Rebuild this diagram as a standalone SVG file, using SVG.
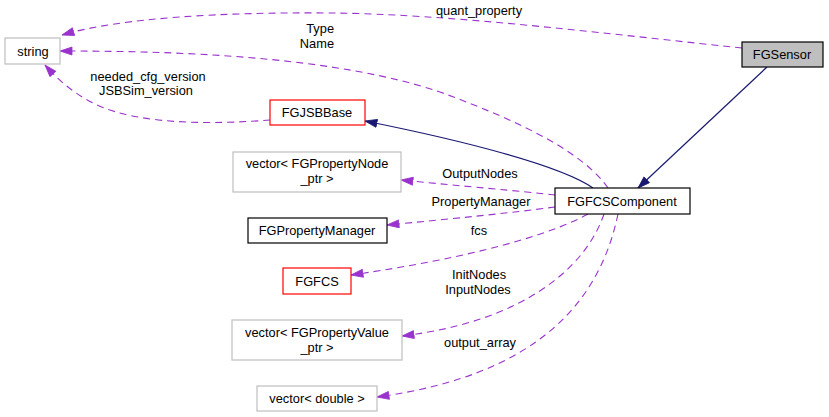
<svg xmlns="http://www.w3.org/2000/svg" width="829" height="417" viewBox="0 0 829 417">
<defs>
<style>
text{font-family:"Liberation Sans",Arial,Helvetica,sans-serif;font-size:12.8px;fill:#000;text-anchor:middle}
.box{fill:#fff;stroke-width:1.2}
.grey{stroke:#bfbfbf}
.red{stroke:#ff0000}
.blk{stroke:#000}
.dash{fill:none;stroke:#9a32cd;stroke-width:1.1;stroke-dasharray:7,5;marker-end:url(#ap)}
.solid{fill:none;stroke:#191970;stroke-width:1.2;marker-end:url(#an)}
</style>
<marker id="ap" markerUnits="userSpaceOnUse" markerWidth="14" markerHeight="10" refX="12.5" refY="4.5" orient="auto"><path d="M0.5,0.5 L12.5,4.5 L0.5,8.5 z" fill="#9a32cd" stroke="#9a32cd" stroke-width="0.8"/></marker>
<marker id="an" markerUnits="userSpaceOnUse" markerWidth="14" markerHeight="10" refX="12.5" refY="4.5" orient="auto"><path d="M0.5,0.5 L12.5,4.5 L0.5,8.5 z" fill="#191970" stroke="#191970" stroke-width="0.8"/></marker>
</defs>
<rect width="829" height="417" fill="#fff"/>
<g id="connectors">
<path class="solid" d="M767,67 L638,188"/>
<path class="solid" d="M593,188 C560,165 460,140 365,121"/>
<path class="dash" d="M742,48 C600,33 450,14 330,13 C220,12 120,18 62,35"/>
<path class="dash" d="M608,188 C585,155 530,125 440,92 C330,55 170,51 60,51"/>
<path class="dash" d="M270,120 C220,124 140,126 95,104 C75,94 60,82 45,65"/>
<path class="dash" d="M555,195 C520,191 460,186 401,180"/>
<path class="dash" d="M555,207 C510,213 450,219 387,225"/>
<path class="dash" d="M588,214 C550,235 470,258 351,275"/>
<path class="dash" d="M604,214 C585,270 520,322 402,336"/>
<path class="dash" d="M618,214 C600,300 540,375 377,397"/>
<text x="479" y="15">quant_property</text>
<text x="334" y="33" style="text-anchor:end">Type</text>
<text x="334" y="48" style="text-anchor:end">Name</text>
<text x="148" y="81">needed_cfg_version</text>
<text x="146" y="95">JSBSim_version</text>
<text x="480" y="178">OutputNodes</text>
<text x="481" y="206">PropertyManager</text>
<text x="479" y="235">fcs</text>
<text x="479" y="279">InitNodes</text>
<text x="478" y="294">InputNodes</text>
<text x="480" y="347">output_array</text>
</g>
<g id="FGSensor"><rect class="blk" x="742" y="42" width="81" height="25" fill="#bfbfbf" stroke-width="1.2"/><text x="782" y="59">FGSensor</text></g>
<g id="FGFCSComponent"><rect class="box blk" x="555" y="188" width="135" height="26"/><text x="622" y="206">FGFCSComponent</text></g>
<g id="string"><rect class="box grey" x="5" y="38" width="55" height="26"/><text x="33" y="56">string</text></g>
<g id="FGJSBBase"><rect class="box red" x="270" y="100" width="95" height="25"/><text x="317" y="117">FGJSBBase</text></g>
<g id="vecNode"><rect class="box grey" x="233" y="152" width="168" height="40"/><text x="317" y="168">vector&lt; FGPropertyNode</text><text x="317" y="183">_ptr &gt;</text></g>
<g id="FGPropertyManager"><rect class="box blk" x="248" y="218" width="139" height="25"/><text x="317" y="235">FGPropertyManager</text></g>
<g id="FGFCS"><rect class="box red" x="283" y="268" width="68" height="26"/><text x="317" y="286">FGFCS</text></g>
<g id="vecValue"><rect class="box grey" x="232" y="320" width="170" height="40"/><text x="317" y="337">vector&lt; FGPropertyValue</text><text x="317" y="352">_ptr &gt;</text></g>
<g id="vecDouble"><rect class="box grey" x="257" y="386" width="120" height="25"/><text x="317" y="403">vector&lt; double &gt;</text></g>
</svg>
